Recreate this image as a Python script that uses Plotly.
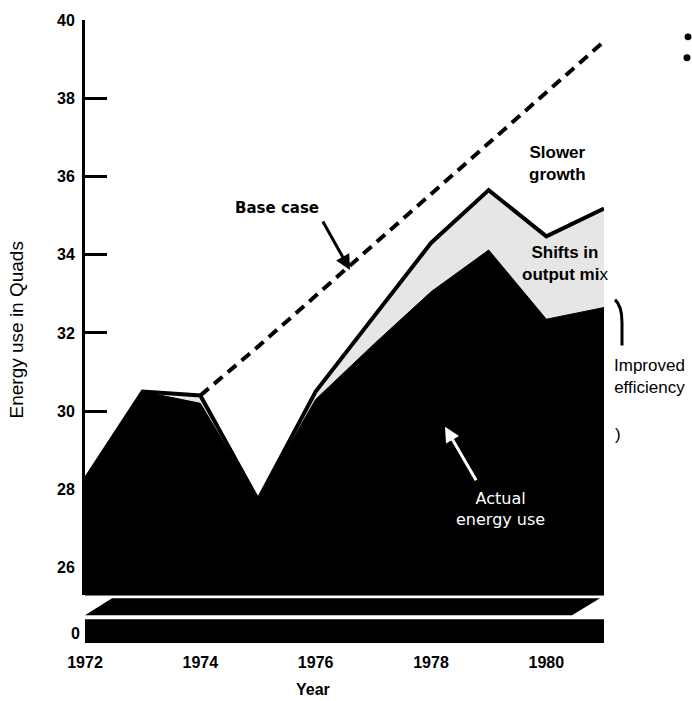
import plotly.graph_objects as go

# ---- data ----
years = [1972, 1973, 1974, 1975, 1976, 1977, 1978, 1979, 1980, 1981]
slower_growth_top = [28.25, 30.5, 30.4, 27.73, 30.5, 32.4, 34.3, 35.65, 34.47, 35.18]
actual_energy_use = [28.25, 30.5, 30.2, 27.73, 30.3, 31.7, 33.05, 34.12, 32.35, 32.65]
base_case = [None, None, 30.4, 31.65, 32.95, 34.25, 35.55, 36.85, 38.15, 39.45]
x_ticks = [1972, 1974, 1976, 1978, 1980]
y_ticks = [26, 28, 30, 32, 34, 36, 38, 40]

# ---- geometry helpers (plot area: x 85..604 px, y 15..643 px) ----
L, R, T, B = 85, 604, 15, 643
W, H = R - L, B - T
X0, X1 = 1972, 1981
Y_TOP, Y_BOT_PX = 40.0, 595
PPU_X = W / (X1 - X0)
PPU_Y = (Y_BOT_PX - T) / 14.71


def dx(px):
    return X0 + (px - L) / PPU_X


def dy(py):
    return Y_TOP - (py - T) / PPU_Y


def px_(px):
    return (px - L) / W


def py_(py):
    return (B - py) / H


FONT = "Liberation Sans"
WIDE = "DejaVu Sans"

fig = go.Figure()

fig.add_trace(go.Scatter(
    x=years, y=slower_growth_top, mode="lines",
    line=dict(color="black", width=4), fill="tozeroy", fillcolor="#e6e6e6",
    hoverinfo="skip", showlegend=False))
fig.add_trace(go.Scatter(
    x=years, y=actual_energy_use, mode="lines",
    line=dict(color="black", width=1), fill="tozeroy", fillcolor="black",
    hoverinfo="skip", showlegend=False))
fig.add_trace(go.Scatter(
    x=years, y=base_case, mode="lines",
    line=dict(color="black", width=4, dash="11px,7px"),
    hoverinfo="skip", showlegend=False))
fig.add_trace(go.Scatter(x=[], y=[], xaxis="x", yaxis="y2", showlegend=False))

shapes = []
# broken-axis slab and base bar
shapes.append(dict(type="path", xref="paper", yref="paper",
                   path=f"M {px_(85)},{py_(615)} L {px_(112)},{py_(598)} L {px_(600)},{py_(598)} L {px_(572)},{py_(615)} Z",
                   fillcolor="black", line=dict(width=0)))
shapes.append(dict(type="rect", xref="paper", yref="paper",
                   x0=px_(85), x1=px_(604), y0=py_(643), y1=py_(619),
                   fillcolor="black", line=dict(width=0)))
# bracket near "Improved efficiency"
shapes.append(dict(type="path", xref="paper", yref="paper",
                   path=f"M {px_(615)},{py_(297)} Q {px_(622)},{py_(303)} {px_(622)},{py_(320)} L {px_(622)},{py_(343)}",
                   line=dict(color="black", width=3)))
# two dots at the top right
for cx, cy in ((688, 32), (687, 53)):
    shapes.append(dict(type="circle", xref="paper", yref="paper",
                       x0=px_(cx - 3.5), x1=px_(cx + 3.5), y0=py_(cy + 3.5), y1=py_(cy - 3.5),
                       fillcolor="black", line=dict(width=0)))


def note(x, y, text, font, **kw):
    d = dict(x=x, y=y, text=text, showarrow=False, font=font,
             xanchor="center", yanchor="middle")
    d.update(kw)
    return d


annotations = [
    note(dx(277), dy(205), "Base case", dict(family=WIDE, size=15, color="black", weight="bold")),
    dict(x=dx(350), y=dy(267), ax=-28, ay=-50, text="", showarrow=True,
         arrowhead=2, arrowsize=1, arrowwidth=3, arrowcolor="black"),
    note(dx(557), dy(160), "Slower<br>growth", dict(family=FONT, size=17, color="black", weight="bold")),
    note(dx(565), dy(260), "Shifts in<br>output mi<span style='font-weight:normal'>x</span>",
         dict(family=FONT, size=17, color="black", weight="bold")),
    note(px_(649), py_(374), "Improved<br>efficiency", dict(family=FONT, size=17, color="black"),
         xref="paper", yref="paper"),
    note(px_(618), py_(433), ")", dict(family=FONT, size=17, color="black"),
         xref="paper", yref="paper"),
    note(dx(500), dy(508), "Actual<br>energy use", dict(family=WIDE, size=16, color="white")),
    dict(x=dx(445), y=dy(425), ax=32, ay=55, text="", showarrow=True,
         arrowhead=2, arrowsize=1, arrowwidth=3, arrowcolor="white"),
    note(px_(17), py_(328), "Energy use in Quads", dict(family=FONT, size=19, color="black"),
         xref="paper", yref="paper", textangle=-90),
    note(px_(313), py_(690), "Year", dict(family=FONT, size=16, color="black", weight="bold"),
         xref="paper", yref="paper"),
]

fig.update_layout(
    width=692, height=701,
    margin=dict(l=L, r=692 - R, t=T, b=701 - B),
    paper_bgcolor="white", plot_bgcolor="white",
    showlegend=False,
    shapes=shapes, annotations=annotations,
    xaxis=dict(range=[X0, X1], anchor="y2", tickvals=x_ticks, ticktext=[str(v) for v in x_ticks],
               showgrid=False, zeroline=False, showline=False, ticks="",
               ticklabelstandoff=8,
               tickfont=dict(family=FONT, size=16, color="black", weight="bold")),
    yaxis=dict(domain=[py_(Y_BOT_PX), 1], range=[Y_TOP - 14.71, Y_TOP], tickvals=y_ticks,
               showgrid=False, zeroline=False, showline=True, linewidth=3, linecolor="black",
               ticks="inside", ticklen=22, tickwidth=3, tickcolor="black",
               ticklabelstandoff=4,
               tickfont=dict(family=FONT, size=16, color="black", weight="bold")),
    yaxis2=dict(domain=[0, py_(619)], range=[-0.8, 1.2], tickvals=[0], ticktext=["0"],
                anchor="x", showgrid=False, zeroline=False, showline=False, ticks="",
                ticklabelstandoff=4,
                tickfont=dict(family=FONT, size=16, color="black", weight="bold")),
)

fig.write_html("out.html", config={"displayModeBar": False},
               post_script="document.body.style.margin='0px';document.body.style.overflow='hidden';")
